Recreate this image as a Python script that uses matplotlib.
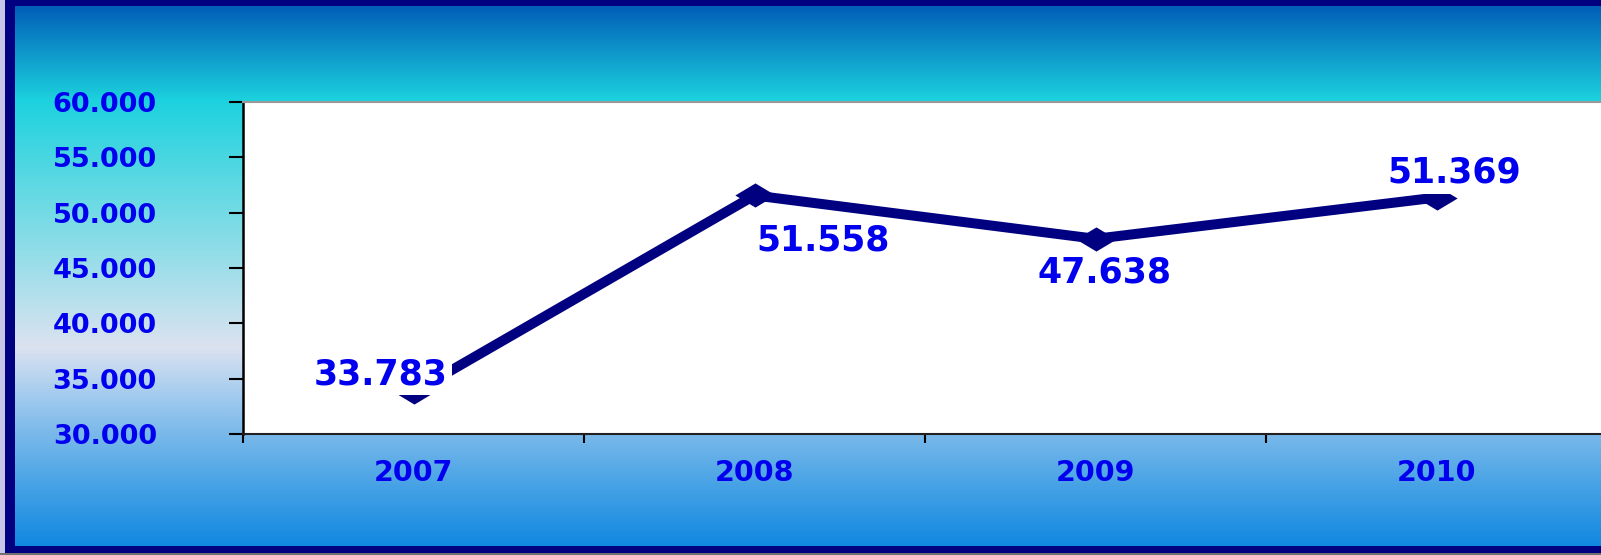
import matplotlib
matplotlib.use("Agg")
import matplotlib.pyplot as plt
import numpy as np
from matplotlib.colors import LinearSegmentedColormap
from matplotlib.patches import Rectangle

# --- data -------------------------------------------------------------------
years = ["2007", "2008", "2009", "2010"]
values = [33783, 51558, 47638, 51369]
y_ticks = [30000, 35000, 40000, 45000, 50000, 55000, 60000]

# label offsets from their point (pixels, right / down)
label_offsets = [(-33, -18), (69, 45), (9, 34), (18, -25)]


def fmt(v):
    return f"{v:,}".replace(",", ".")


W, H = 1601, 555
DPI = 100
fig = plt.figure(figsize=(W / DPI, H / DPI), dpi=DPI)

# --- background gradient ----------------------------------------------------
stops = [
    (0.00, "#0058B6"),
    (0.18, "#1CD2DE"),
    (0.36, "#6ADAE4"),
    (0.54, "#B6E0EC"),
    (0.625, "#DCE2F0"),
    (0.72, "#9ECAEE"),
    (0.78, "#7BB9EA"),
    (0.87, "#4AA4E6"),
    (1.00, "#0A84E0"),
]
cmap = LinearSegmentedColormap.from_list("bg", stops)
bg = fig.add_axes([0, 0, 1, 1], zorder=0)
grad = np.linspace(0, 1, 512).reshape(-1, 1)
bg.imshow(grad, aspect="auto", cmap=cmap, extent=[0, 1, 0, 1], origin="upper")
bg.set_xlim(0, 1)
bg.set_ylim(0, 1)
bg.axis("off")


def px_rect(x0, y0, x1, y1, color):
    # pixel box measured from the top-left corner
    bg.add_patch(Rectangle((x0 / W, 1 - y1 / H), (x1 - x0) / W, (y1 - y0) / H,
                           facecolor=color, edgecolor="none", zorder=5))


px_rect(0, 0, 5, H, "#C8C6E8")
px_rect(5, 0, 15, 553, "#000080")
px_rect(5, 0, W, 6, "#000080")
px_rect(5, 546, W, 553, "#000080")
px_rect(0, 553, W, H, "#707070")

# --- main plot ----------------------------------------------------------------
left, top, bottom, right = 243, 102, 434, 1607
ax = fig.add_axes([left / W, 1 - bottom / H, (right - left) / W, (bottom - top) / H],
                  zorder=1)
ax.set_facecolor("white")

x = np.arange(len(years))
diamond = [(-1, 0), (0, 0.6), (1, 0), (0, -0.6), (-1, 0)]
ax.plot(x, values, color="#000080", linewidth=7.2, marker=diamond,
        markersize=29, markerfacecolor="#000080", markeredgewidth=0,
        solid_joinstyle="miter", zorder=2)

for xi, v, (dx, dy) in zip(x, values, label_offsets):
    ax.annotate(fmt(v), xy=(xi, v), xytext=(dx * 0.72, -dy * 0.72),
                textcoords="offset points", ha="center", va="center",
                fontsize=25, fontweight="bold", color="#0000EE",
                family="DejaVu Sans",
                bbox=dict(boxstyle="square,pad=0.12", facecolor="white",
                          edgecolor="none"),
                zorder=3)

ax.set_xlim(-0.5, len(years) - 0.5)
ax.set_ylim(y_ticks[0], y_ticks[-1])

ax.set_yticks(y_ticks)
ax.set_yticklabels([fmt(t) for t in y_ticks])
ax.tick_params(axis="y", direction="out", length=10, width=1.5, color="black",
               pad=52, labelsize=19.5, labelcolor="#0000EE")

ax.set_xticks(np.arange(len(years) + 1) - 0.5)
ax.set_xticklabels([])
ax.set_xticks(x, minor=True)
ax.set_xticklabels(years, minor=True)
ax.tick_params(axis="x", which="major", direction="out", length=6.5,
               width=1.5, color="black")
ax.tick_params(axis="x", which="minor", length=0, pad=18, labelsize=20.5,
               labelcolor="#0000EE")
for lbl in ax.get_xticklabels(minor=True) + ax.get_yticklabels():
    lbl.set_fontweight("bold")

ax.spines["left"].set_linewidth(1.8)
ax.spines["left"].set_color("black")
ax.spines["bottom"].set_linewidth(1.5)
ax.spines["bottom"].set_color("#202020")
ax.spines["top"].set_linewidth(1.5)
ax.spines["top"].set_color("#999999")
ax.spines["right"].set_visible(False)

fig.savefig("out.png", dpi=DPI)
plt.close(fig)
